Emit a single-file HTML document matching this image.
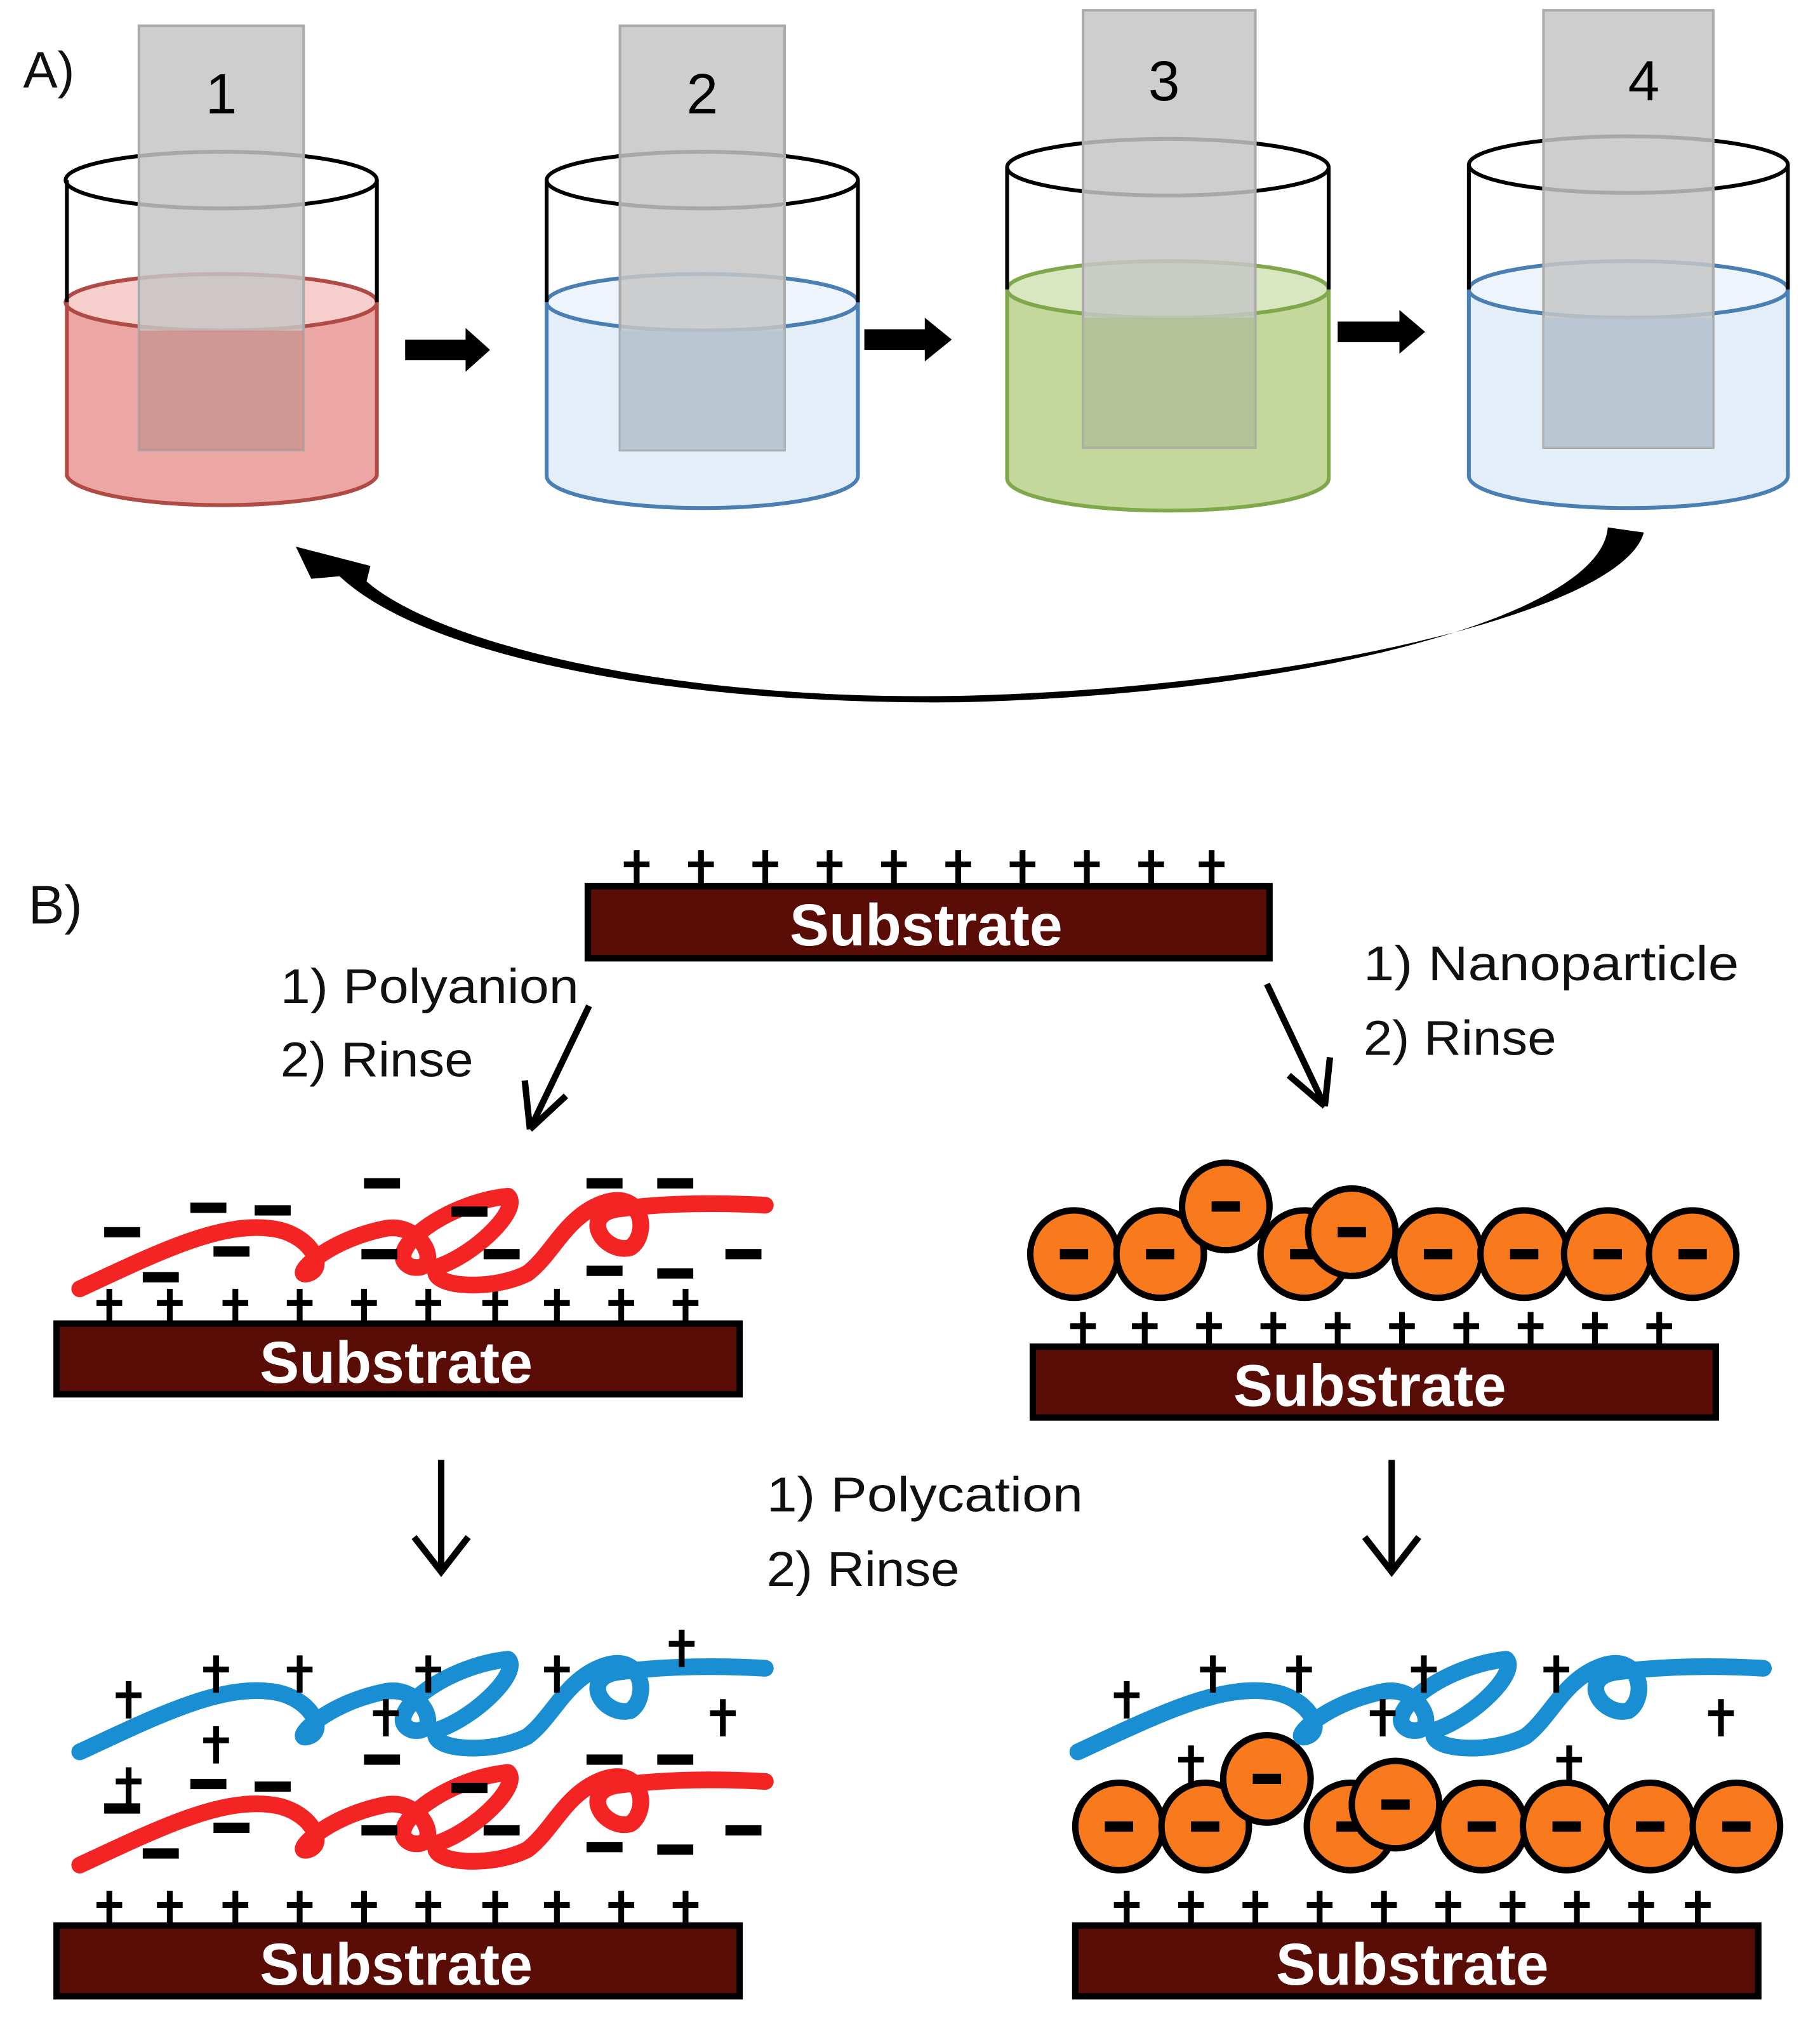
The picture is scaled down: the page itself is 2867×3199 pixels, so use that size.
<!DOCTYPE html>
<html><head><style>
html,body{margin:0;padding:0;background:#fff;width:2867px;height:3199px;overflow:hidden}
svg{display:block}
text{font-family:"Liberation Sans",sans-serif}
</style></head><body>
<svg width="2867" height="3199" viewBox="0 0 1415 1579" preserveAspectRatio="none" xmlns="http://www.w3.org/2000/svg">
<defs>
<path id="strand" d="M62,1002 C120,975 170,950 210,955 C240,958 255,985 240,990 C225,995 250,965 300,955 C330,950 345,990 320,985 C295,975 345,935 395,930 C405,940 370,975 340,985 C330,1000 380,1005 410,990 C430,975 440,945 470,935 C500,925 505,960 490,970 C470,975 450,945 480,940 C520,935 560,935 595,937" fill="none" stroke-width="13" stroke-linecap="round" stroke-linejoin="round"/>
<g id="plus"><path d="M-10,0 H10 M0,-11 V18" stroke="#000" stroke-width="4.5" fill="none"/></g>
<rect id="dash" x="-14" y="-4" width="28" height="8" fill="#000"/>
<g id="np"><circle r="34" fill="#f97a1c" stroke="#000" stroke-width="5"/><rect x="-11" y="-4" width="22" height="8" fill="#000"/></g>
</defs>

<text x="18" y="68" font-size="40" fill="#111">A)</text>

<g>
<path d="M52,235 V370 A121,25 0 0 0 293,370 V235 Z" fill="#eca7a4"/>
<ellipse cx="172" cy="235" rx="121" ry="22" fill="#f6cfcd" stroke="#b04a45" stroke-width="3"/>
<path d="M52,235 V370 A121,25 0 0 0 293,370 V235" fill="none" stroke="#b04a45" stroke-width="3"/>
<ellipse cx="172" cy="140" rx="121" ry="22" fill="none" stroke="#000" stroke-width="3"/>
<path d="M52,140 V235 M293,140 V235" stroke="#000" stroke-width="3"/>
<rect x="108" y="20" width="128" height="330" fill="#c6c6c6" fill-opacity="0.85" stroke="#aaa" stroke-width="2"/>
<rect x="108" y="257" width="128" height="93" fill="#d38480" fill-opacity="0.7"/>
<text x="172" y="88" font-size="44" text-anchor="middle">1</text>
</g>
<g>
<path d="M425,235 V370 A121,25 0 0 0 667,370 V235 Z" fill="#e3eef8"/>
<ellipse cx="546" cy="235" rx="121" ry="22" fill="#eef4fb" stroke="#4a7fb4" stroke-width="3"/>
<path d="M425,235 V370 A121,25 0 0 0 667,370 V235" fill="none" stroke="#4a7fb4" stroke-width="3"/>
<ellipse cx="546" cy="140" rx="121" ry="22" fill="none" stroke="#000" stroke-width="3"/>
<path d="M425,140 V235 M667,140 V235" stroke="#000" stroke-width="3"/>
<rect x="482" y="20" width="128" height="330" fill="#c6c6c6" fill-opacity="0.85" stroke="#aaa" stroke-width="2"/>
<rect x="482" y="257" width="128" height="93" fill="#b4c3d3" fill-opacity="0.7"/>
<text x="546" y="88" font-size="44" text-anchor="middle">2</text>
</g>
<g>
<path d="M783,225 V372 A125,25 0 0 0 1033,372 V225 Z" fill="#c3d89a"/>
<ellipse cx="908" cy="225" rx="125" ry="22" fill="#d9e7c0" stroke="#7fa84a" stroke-width="3"/>
<path d="M783,225 V372 A125,25 0 0 0 1033,372 V225" fill="none" stroke="#7fa84a" stroke-width="3"/>
<ellipse cx="908" cy="130" rx="125" ry="22" fill="none" stroke="#000" stroke-width="3"/>
<path d="M783,130 V225 M1033,130 V225" stroke="#000" stroke-width="3"/>
<rect x="842" y="8" width="134" height="340" fill="#c6c6c6" fill-opacity="0.85" stroke="#aaa" stroke-width="2"/>
<rect x="842" y="247" width="134" height="101" fill="#adbf8a" fill-opacity="0.7"/>
<text x="905" y="78" font-size="44" text-anchor="middle">3</text>
</g>
<g>
<path d="M1142,225 V370 A124,25 0 0 0 1390,370 V225 Z" fill="#e3eef8"/>
<ellipse cx="1266" cy="225" rx="124" ry="22" fill="#eef4fb" stroke="#4a7fb4" stroke-width="3"/>
<path d="M1142,225 V370 A124,25 0 0 0 1390,370 V225" fill="none" stroke="#4a7fb4" stroke-width="3"/>
<ellipse cx="1266" cy="128" rx="124" ry="22" fill="none" stroke="#000" stroke-width="3"/>
<path d="M1142,128 V225 M1390,128 V225" stroke="#000" stroke-width="3"/>
<rect x="1200" y="8" width="132" height="340" fill="#c6c6c6" fill-opacity="0.85" stroke="#aaa" stroke-width="2"/>
<rect x="1200" y="247" width="132" height="101" fill="#b4c3d3" fill-opacity="0.7"/>
<text x="1278" y="78" font-size="44" text-anchor="middle">4</text>
</g>

<path d="M315,264 H362 V255 L381,272 L362,289 V280 H315 Z" fill="#000"/>
<path d="M672,256 H719 V247 L740,264 L719,281 V272 H672 Z" fill="#000"/>
<path d="M1040,250 H1088 V241 L1108,258 L1088,275 V266 H1040 Z" fill="#000"/>

<path d="M1250,410 L1278,414 C1262,475 1010,535 745,541 C520,545 340,500 285,452 L288,440 L230,425 L242,450 L264,448 C330,510 520,548 745,546 C1010,540 1245,480 1250,410 Z" fill="#000"/>

<text x="22" y="718" font-size="42" fill="#111">B)</text>

<g>
<rect x="457" y="689" width="530" height="56" fill="#5a0c06" stroke="#000" stroke-width="5"/>
<text x="720" y="735" font-size="46" fill="#fff" text-anchor="middle" font-weight="bold">Substrate</text>
<use href="#plus" x="495" y="672"/><use href="#plus" x="545" y="672"/><use href="#plus" x="595" y="672"/><use href="#plus" x="645" y="672"/><use href="#plus" x="695" y="672"/><use href="#plus" x="745" y="672"/><use href="#plus" x="795" y="672"/><use href="#plus" x="845" y="672"/><use href="#plus" x="895" y="672"/><use href="#plus" x="942" y="672"/>
</g>

<text x="218" y="780" font-size="38" fill="#111" textLength="232" lengthAdjust="spacingAndGlyphs">1) Polyanion</text>
<text x="218" y="837" font-size="38" fill="#111" textLength="150" lengthAdjust="spacingAndGlyphs">2) Rinse</text>
<path d="M458,782 L412,878 M412,878 L408,840 M412,878 L440,852" stroke="#000" stroke-width="5" fill="none"/>
<text x="1060" y="762" font-size="38" fill="#111" textLength="292" lengthAdjust="spacingAndGlyphs">1) Nanoparticle</text>
<text x="1060" y="820" font-size="38" fill="#111" textLength="150" lengthAdjust="spacingAndGlyphs">2) Rinse</text>
<path d="M985,765 L1030,860 M1030,860 L1002,836 M1030,860 L1034,822" stroke="#000" stroke-width="5" fill="none"/>

<g>
<rect x="44" y="1029" width="531" height="55" fill="#5a0c06" stroke="#000" stroke-width="5"/>
<text x="308" y="1075" font-size="46" fill="#fff" text-anchor="middle" font-weight="bold">Substrate</text>
<g id="plrow"><use href="#plus" x="85" y="1013"/><use href="#plus" x="132" y="1013"/><use href="#plus" x="183" y="1013"/><use href="#plus" x="233" y="1013"/><use href="#plus" x="283" y="1013"/><use href="#plus" x="333" y="1013"/><use href="#plus" x="385" y="1013"/><use href="#plus" x="433" y="1013"/><use href="#plus" x="483" y="1013"/><use href="#plus" x="533" y="1013"/></g>
<use href="#strand" stroke="#f42424"/>
<g id="dashes"><use href="#dash" x="95" y="958"/><use href="#dash" x="162" y="939"/><use href="#dash" x="212" y="941"/><use href="#dash" x="297" y="920"/><use href="#dash" x="365" y="942"/><use href="#dash" x="470" y="920"/><use href="#dash" x="525" y="920"/><use href="#dash" x="125" y="993"/><use href="#dash" x="180" y="973"/><use href="#dash" x="295" y="975"/><use href="#dash" x="390" y="975"/><use href="#dash" x="470" y="988"/><use href="#dash" x="578" y="975"/><use href="#dash" x="525" y="990"/></g>
</g>

<g>
<rect x="803" y="1047" width="531" height="55" fill="#5a0c06" stroke="#000" stroke-width="5"/>
<text x="1065" y="1093" font-size="46" fill="#fff" text-anchor="middle" font-weight="bold">Substrate</text>
<use href="#plus" x="842" y="1031"/><use href="#plus" x="890" y="1031"/><use href="#plus" x="940" y="1031"/><use href="#plus" x="990" y="1031"/><use href="#plus" x="1040" y="1031"/><use href="#plus" x="1090" y="1031"/><use href="#plus" x="1140" y="1031"/><use href="#plus" x="1190" y="1031"/><use href="#plus" x="1240" y="1031"/><use href="#plus" x="1290" y="1031"/>
<use href="#np" x="835" y="975"/><use href="#np" x="902" y="975"/><use href="#np" x="1014" y="975"/><use href="#np" x="953" y="938"/><use href="#np" x="1051" y="958"/><use href="#np" x="1118" y="975"/><use href="#np" x="1185" y="975"/><use href="#np" x="1250" y="975"/><use href="#np" x="1316" y="975"/>
</g>

<path d="M343,1135 V1220 M322,1195 L343,1222 L364,1195" stroke="#000" stroke-width="5" fill="none"/>
<path d="M1082,1135 V1220 M1061,1195 L1082,1222 L1103,1195" stroke="#000" stroke-width="5" fill="none"/>
<text x="596" y="1175" font-size="38" fill="#111" textLength="246" lengthAdjust="spacingAndGlyphs">1) Polycation</text>
<text x="596" y="1233" font-size="38" fill="#111" textLength="150" lengthAdjust="spacingAndGlyphs">2) Rinse</text>

<g>
<rect x="44" y="1497" width="531" height="55" fill="#5a0c06" stroke="#000" stroke-width="5"/>
<text x="308" y="1543" font-size="46" fill="#fff" text-anchor="middle" font-weight="bold">Substrate</text>
<use href="#plrow" y="468"/>
<use href="#strand" stroke="#f42424" y="448"/>
<use href="#dashes" y="448"/>
<use href="#strand" stroke="#1a8ed2" y="360"/>
<use href="#plus" x="100" y="1318"/><use href="#plus" x="168" y="1298"/><use href="#plus" x="233" y="1298"/><use href="#plus" x="333" y="1298"/><use href="#plus" x="433" y="1298"/><use href="#plus" x="530" y="1278"/><use href="#plus" x="300" y="1332"/><use href="#plus" x="562" y="1332"/><use href="#plus" x="168" y="1353"/><use href="#plus" x="100" y="1385"/>
</g>

<g>
<rect x="836" y="1497" width="531" height="55" fill="#5a0c06" stroke="#000" stroke-width="5"/>
<text x="1098" y="1543" font-size="46" fill="#fff" text-anchor="middle" font-weight="bold">Substrate</text>
<use href="#plus" x="876" y="1481"/><use href="#plus" x="926" y="1481"/><use href="#plus" x="976" y="1481"/><use href="#plus" x="1026" y="1481"/><use href="#plus" x="1076" y="1481"/><use href="#plus" x="1126" y="1481"/><use href="#plus" x="1176" y="1481"/><use href="#plus" x="1226" y="1481"/><use href="#plus" x="1276" y="1481"/><use href="#plus" x="1320" y="1481"/>
<use href="#np" x="870" y="1420"/><use href="#np" x="937" y="1420"/><use href="#np" x="1050" y="1420"/><use href="#np" x="985" y="1383"/><use href="#np" x="1085" y="1403"/><use href="#np" x="1152" y="1420"/><use href="#np" x="1218" y="1420"/><use href="#np" x="1283" y="1420"/><use href="#np" x="1350" y="1420"/>
<use href="#strand" stroke="#1a8ed2" x="776" y="360"/>
<use href="#plus" x="876" y="1318"/><use href="#plus" x="943" y="1298"/><use href="#plus" x="1010" y="1298"/><use href="#plus" x="1107" y="1298"/><use href="#plus" x="1210" y="1298"/><use href="#plus" x="1075" y="1332"/><use href="#plus" x="1338" y="1332"/><use href="#plus" x="926" y="1368"/><use href="#plus" x="1220" y="1368"/>
</g>
</svg>
</body></html>
